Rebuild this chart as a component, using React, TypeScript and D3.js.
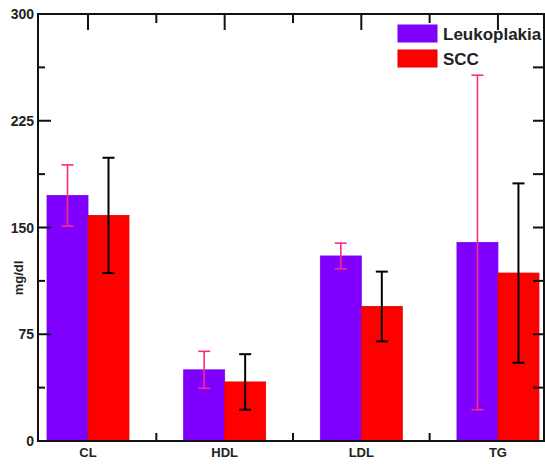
import React, { useEffect, useRef } from "react";
import * as d3 from "d3";

const categories = ["CL", "HDL", "LDL", "TG"];
const seriesNames = ["Leukoplakia", "SCC"];
const leukoMean = [172.5, 50, 130, 139.5];
const leukoErr = [21.5, 13, 9, 117.5];
const sccMean = [158.5, 41.5, 94.5, 118];
const sccErr = [40.5, 19.5, 24.5, 63];
const yTicks = [0, 75, 150, 225, 300];

export default function App() {
  const ref = useRef<SVGSVGElement>(null);

  useEffect(() => {
    document.body.style.margin = "0";
    const width = 545;
    const height = 464;
    const left = 38, right = 544, top = 14, bottom = 441;
    const font = "Liberation Sans, Arial, sans-serif";

    const svg = d3.select(ref.current);
    svg.selectAll("*").remove();

    // category index -> x pixel
    let x = d3.scaleLinear().domain([-0.366, 3.337]).range([left, right]);
    let y = d3.scaleLinear().domain([0, 300]).range([bottom, top]);
    const bw = x(0.3) - x(0);

    const series = [
      { name: seriesNames[0], mean: leukoMean, err: leukoErr, fill: "#7f00ff", stroke: "#7a00f0", errColor: "#ff2a7f", off: -1, ew: 1.6 },
      { name: seriesNames[1], mean: sccMean, err: sccErr, fill: "#ff0000", stroke: "#e00000", errColor: "#000000", off: 0, ew: 2 },
    ];

    // bars
    series.forEach(function (s) {
      svg
        .append("g")
        .selectAll("rect")
        .data(s.mean)
        .enter()
        .append("rect")
        .attr("x", function (d, i) { return x(i) + s.off * bw; })
        .attr("y", function (d) { return y(d); })
        .attr("width", bw)
        .attr("height", function (d) { return y(0) - y(d); })
        .attr("fill", s.fill)
        .attr("stroke", s.stroke)
        .attr("stroke-width", 0.8);
    });

    // error bars
    series.forEach(function (s) {
      const g = svg.append("g").attr("stroke", s.errColor).attr("stroke-width", s.ew);
      s.mean.forEach(function (m, i) {
        const cx = x(i) + s.off * bw + bw / 2;
        const hi = y(m + s.err[i]);
        const lo = y(m - s.err[i]);
        g.append("line").attr("x1", cx).attr("x2", cx).attr("y1", hi).attr("y2", lo);
        g.append("line").attr("x1", cx - 6).attr("x2", cx + 6).attr("y1", hi).attr("y2", hi);
        g.append("line").attr("x1", cx - 6).attr("x2", cx + 6).attr("y1", lo).attr("y2", lo);
      });
    });

    // frame
    const axis = svg.append("g").attr("stroke", "#111").attr("stroke-width", 2);
    axis.append("rect")
      .attr("x", left).attr("y", top)
      .attr("width", right - left).attr("height", bottom - top)
      .attr("fill", "none");

    // y ticks, left (major + minor) and right
    const minor = d3.range(0, 301, 37.5);
    minor.forEach(function (v) {
      const isMajor = yTicks.indexOf(v) >= 0;
      if (v > 0 && v < 300) {
        axis.append("line").attr("x1", left).attr("x2", left + (isMajor ? 13 : 7)).attr("y1", y(v)).attr("y2", y(v));
        axis.append("line").attr("x1", right).attr("x2", right - 11).attr("y1", y(v)).attr("y2", y(v));
      }
    });

    // x ticks: centres on top (long), boundaries on top/bottom (short)
    categories.forEach(function (c, i) {
      axis.append("line").attr("x1", x(i)).attr("x2", x(i)).attr("y1", top).attr("y2", top + 16);
      if (i < categories.length - 1) {
        const b = x(i + 0.5);
        axis.append("line").attr("x1", b).attr("x2", b).attr("y1", top).attr("y2", top + 9);
        axis.append("line").attr("x1", b).attr("x2", b).attr("y1", bottom).attr("y2", bottom - 8);
      }
    });

    // y tick labels
    svg.append("g")
      .selectAll("text")
      .data(yTicks)
      .enter()
      .append("text")
      .attr("x", left - 4)
      .attr("y", function (d) { return y(d) + 5; })
      .attr("text-anchor", "end")
      .attr("font-family", font)
      .attr("font-weight", "bold")
      .attr("font-size", 14)
      .attr("fill", "#222")
      .text(function (d) { return d; });

    // category labels
    svg.append("g")
      .selectAll("text")
      .data(categories)
      .enter()
      .append("text")
      .attr("x", function (d, i) { return x(i); })
      .attr("y", 457)
      .attr("text-anchor", "middle")
      .attr("font-family", font)
      .attr("font-weight", "bold")
      .attr("font-size", 13)
      .attr("fill", "#222")
      .text(function (d) { return d; });

    // y title
    svg.append("text")
      .attr("transform", "translate(23,278)rotate(-90)")
      .attr("text-anchor", "middle")
      .attr("font-family", font)
      .attr("font-weight", "bold")
      .attr("font-size", 13)
      .attr("fill", "#222")
      .text("mg/dl");

    // legend
    series.forEach(function (s, i) {
      svg.append("rect")
        .attr("x", 398).attr("y", 25 + i * 25)
        .attr("width", 39).attr("height", 17)
        .attr("fill", s.fill).attr("stroke", s.stroke);
      svg.append("text")
        .attr("x", 443).attr("y", 40 + i * 25)
        .attr("font-family", font)
        .attr("font-weight", "bold")
        .attr("font-size", 17)
        .attr("fill", "#222")
        .text(s.name);
    });

    svg.attr("viewBox", [0, 0, width, height].join(" "));
  });

  return <svg ref={ref} width={545} height={464} style={{ display: "block", background: "#fff" }}></svg>;
}
